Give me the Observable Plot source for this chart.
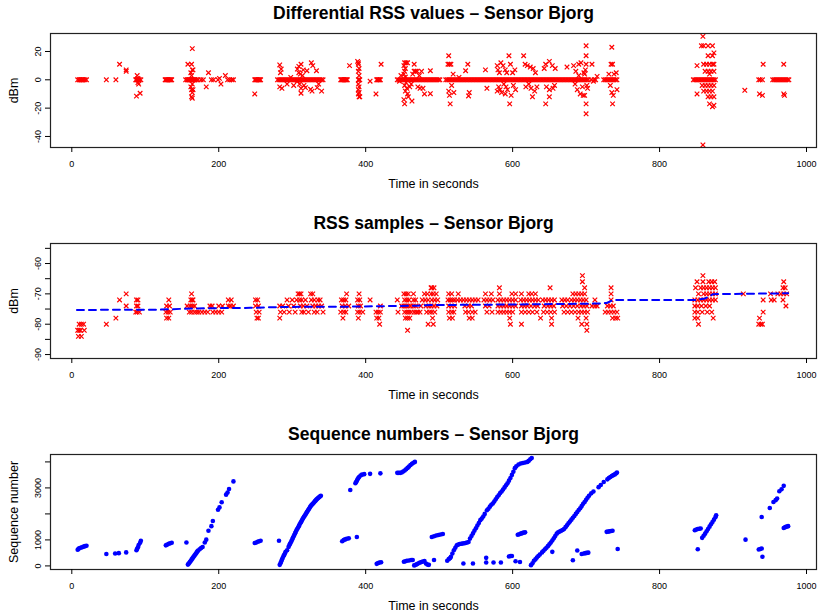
<!DOCTYPE html>
<html><head><meta charset="utf-8">
<script src="https://cdn.jsdelivr.net/npm/d3@7"></script>
<script src="https://cdn.jsdelivr.net/npm/@observablehq/plot@0.6"></script>
<style>body{margin:0;background:#fff;} #chart svg{display:block;}</style>
</head><body><div id="chart"></div>
<script>
const timeTicks = [0, 200, 400, 600, 800, 1000];
const diffTicks = [-40, -20, 0, 20];
const diffTickLabels = [-40, -20, 0, 20];
const rssTicks = [-90, -85, -80, -75, -70, -65, -60, -55];
const rssTickLabels = [-90, -80, -70, -60];
const seqTicks = [0, 1000, 2000, 3000, 4000];
const seqTickLabels = [0, 1000, 3000];

const titles = ["Differential RSS values \u2013 Sensor Bjorg", "RSS samples \u2013 Sensor Bjorg", "Sequence numbers \u2013 Sensor Bjorg"];
const xLabel = "Time in seconds";
const yLabels = ["dBm", "dBm", "Sequence number"];

// [time (s), differential RSS (dBm)]
const diffRss = [
[8,0],[10,0],[11,0],[12,0],[13,0],[14,0],[15,0],[16,0],[18,0],[20,0],
[47,0],[60,0],[65,11],[74,6],[74,7],
[87,0],[88,0],[89,0],[90,0],[91,0],[92,0],[94,0],[89,3],[90,-2],[91,-3],[88,-11.5],[93,-9.5],[90,1],
[127,0],[128,0],[129,0],[130,0],[131,0],[132,0],[133,0],[134,0],[135,0],[136,0],
[155,0],[157,0],[158,0],[159,0],[160,0],[161,0],[162,0],[163,0],[164,0],[165,0],[166,0],[167,0],[168,0],[170,0],[172,0],
[158,11],[164,22],[163,11],[164,7],[165,7],[162,5],[163,3],[164,-3],[163,-7],[165,-7],[164,-9],[163,-12],[164,-13],[162,-5],
[176,0],[179,0],[183,-5],[186,5],[190,0],[193,0],[199,0],[201,1],[203,-3],[209,3],[212,0],[215,0],[218,0],[220,0],
[249,0],[250,0],[251,0],[252,0],[253,0],[254,0],[255,0],[256,0],[257,0],[249,-10],
[280,0],[282,0],[284,0],[286,0],[288,0],[290,0],[292,0],[294,0],[296,0],[298,0],[300,0],[302,0],[304,0],[306,0],[308,0],[310,0],[312,0],[314,0],[316,0],[318,0],[320,0],[322,0],[324,0],[326,0],[328,0],[330,0],[332,0],[334,0],[336,0],[338,0],[340,0],[342,0],
[283,10.5],[284,5],[285,7.6],[283,-5],[286,-6],[298,1.7],[307,7.6],[309,9.5],[311,4],[312,11],[315,7],[310,-3],[312,-6],[312,-9.5],[320,6.4],[326,12],[328,10],[333,6.4],[325,-6.7],[327,-8],[334,-5.5],[340,-8],[336,-3],[316,-4],[318,-5.5],[302,-4],[293,-3],[307,-1],[309,5],[314,3],
[366,0],[367,0],[368,0],[369,0],[370,0],[371,0],[372,0],[373,0],[374,0],[375,0],
[378,10],[389,13],[390,12],[390,11],[391,8],[390,6],[391,3],[390,0],[391,0],[392,0],[390,-3],[391,-5],[390,-7],[391,-9],[390,-10],[391,-12],[392,-12],[406,-1],[414,-10],[415,0],[416,0],[417,0],[418,0],[419,0],[420,0],[421,11],
[443,0],[445,0],[447,0],[449,0],[451,0],[453,0],[455,0],[457,0],[459,0],[461,0],[463,0],[465,0],[467,0],[469,0],[471,0],[473,0],[475,0],[477,0],[479,0],[481,0],[483,0],[485,0],[487,0],[489,0],[491,0],[493,0],[495,0],[497,0],[499,0],[501,0],
[453,12],[455,12],[457,12],[452,10],[454,8],[453,6],[452,4],[454,2],[455,-2],[453,-4],[456,-6],[454,-8],[457,-10],[458,-12],[452,-14],[453,-17],[463,-15],[466,11],[466,6],[468,6],[470,6],[448,3],[446,-1],[476,6],[478,-6],[480,-10],[460,-5],[462,-3],[464,4],[471,-5],[474,-6],[473,3],[488,6.4],[488,-9.8],
[513,17],[512,11],[514,11],[516,11],[513,-8],[514,-11],[515,-17],[520,-9],[517,-4],[519,4],
[509,0],[511,0],[513,0],[515,0],[517,0],[519,0],[521,0],[523,0],[525,0],[527,0],[529,0],[531,0],[533,0],[535,0],[537,0],[539,0],[541,0],[543,0],[545,0],[547,0],[549,0],[551,0],[553,0],[555,0],[557,0],[559,0],[561,0],[563,0],[565,0],[567,0],[569,0],[571,0],[573,0],[575,0],[577,0],[579,0],[581,0],[583,0],[585,0],[587,0],[589,0],[591,0],[593,0],[595,0],[597,0],[599,0],
[527,1.7],[536,6.4],[539,11],[540,-11.4],[541,-9],[563,7],[565,-6],
[579,10],[580,7],[582,5],[581,-5],[583,-7],[579,-8],[584,12],[587,10],[590,7],[592,5],[591,-5],[593,-7],[590,-10],[595,17],[597,11],[598,-11],[596,-17],[600,5],[601,-4],[603,7],[604,-7],[585,-9],[588,-3],
[615,17],[617,11],[620,10],[624,9],[628,8],[622,-3],[625,-6],[630,-8],[633,-5],[627,-12],[631,5],[618,-5],
[601,0],[603,0],[605,0],[607,0],[609,0],[611,0],[613,0],[615,0],[617,0],[619,0],[621,0],[623,0],[625,0],[627,0],[629,0],[631,0],[633,0],[635,0],[637,0],[639,0],[641,0],[643,0],[645,0],[647,0],[649,0],[651,0],[653,0],[655,0],[657,0],[659,0],[661,0],[663,0],[665,0],[667,0],[669,0],[671,0],[673,0],[675,0],[677,0],[679,0],[681,0],[683,0],[685,0],[687,0],[689,0],[691,0],[693,0],[695,0],[697,0],[699,0],[701,0],[703,0],
[643,8],[645,11],[650,13],[654,10],[658,8],[646,-5],[650,-7],[655,-6],[645,-17],[650,-12],[657,-4],[674,9],
[683,10],[686,6],[690,11],[693,12],[695,-5],[688,-7],[692,-10],[696,-11],[698,-11],[700,24],[700,17],[700,11],[699,7],[698,4],[701,-4],[700,-17],[700,-24],[685,-3],[690,3],[697,5],[702,-6],
[708,11],[710,-1],[715,2.4],[707,0],[711,0],[713,0],
[724,0],[726,0],[728,0],[730,0],[732,0],[734,0],[736,0],[738,0],[740,0],[742,0],[735,23],[734,11],[736,11],[731,4],[738,4],[733,-4],[735,-9],[737,-11],[736,-17],[742,-7],[741,5],
[846,0],[848,0],[850,0],[852,0],[854,0],[856,0],[858,0],[860,0],[862,0],[864,0],[866,0],[868,0],[870,0],[872,0],[874,0],[876,0],
[859,30.7],[857,24],[860,24],[866,24],[872,24],[866,17],[860,11],[864,11],[868,11],[872,11],[874,11],[862,6],[866,6],[870,6],[874,6],[868,4],[872,17],[874,19],
[858,-4],[862,-4],[866,-4],[870,-4],[874,-4],[860,-8],[864,-8],[868,-8],[872,-8],[874,-12],[866,-12],[870,-12],[868,-17],[872,-19],[874,-18],[851,-10],[851,10],[859,-46],
[916,-7.4],[935,0],[937,0],[940,0],[941,11],[936,-10],[940,-11],
[954,0],[956,0],[958,0],[960,0],[962,0],[964,0],[966,0],[968,0],[970,0],[972,0],[974,0],[976,0],[969,11],[969,-10],[970,-11]
];

// [time (s), RSS (dBm)]
const rssSamples = [
[10,-80],[13,-80],[16,-80],[8,-82],[10,-82],[12,-82],[17,-82],[9,-84],[13,-84],
[47,-80],[60,-78],[65,-72],[74,-70],[74,-74],
[88,-72],[90,-72],[88,-74],[90,-74],[87,-76],[89,-76],[92,-76],
[132,-72],[129,-74],[133,-74],[128,-76],[131,-76],[134,-76],[129,-78],[132,-78],
[163,-70],[162,-72],[164,-72],[165,-72],[157,-74],[161,-74],[164,-74],[167,-74],[160,-76],[163,-76],[167,-76],[170,-76],[173,-76],[177,-76],[181,-76],[185,-76],
[188,-74],[191,-74],[192,-76],[196,-76],[200,-76],[204,-76],[200,-74],[205,-74],[213,-72],[217,-72],[213,-74],[216,-74],[220,-74],
[250,-72],[253,-72],[250,-74],[254,-74],[251,-76],[255,-76],[252,-78],[254,-78],
[283,-74],[284,-76],[283,-78],[287,-74],[289,-76],[293,-72],[295,-74],[296,-76],[300,-72],[302,-74],[304,-76],[306,-72],[308,-70],[310,-70],[312,-70],[310,-72],[313,-72],[315,-74],[311,-74],[316,-76],[313,-76],[318,-72],[320,-74],[322,-76],[325,-70],[328,-70],[326,-72],[330,-72],[328,-74],[332,-74],[330,-76],[334,-76],[336,-74],[338,-72],[340,-74],[342,-76],[335,-72],
[367,-72],[370,-72],[373,-72],[374,-70],[368,-74],[372,-74],[366,-76],[370,-76],[373,-76],[369,-78],[377,-74],
[391,-70],[389,-72],[392,-72],[390,-74],[393,-74],[389,-76],[392,-76],[390,-78],[396,-76],
[406,-72],[420,-74],
[414,-76],[417,-76],[420,-76],[415,-78],[418,-78],[419,-80],
[443,-72],[444,-76],[449,-74],[452,-70],[455,-70],[458,-70],[453,-72],[456,-72],[459,-72],[452,-74],[455,-74],[458,-74],[461,-74],[453,-76],[456,-76],[459,-76],[462,-76],[454,-78],[457,-78],[460,-78],[457,-82],[465,-72],[468,-72],[465,-74],[468,-74],[466,-76],[469,-76],[465,-70],[471,-76],[474,-76],[475,-74],
[480,-70],[484,-70],[481,-72],[485,-72],[482,-74],[486,-74],[483,-76],[487,-76],[485,-80],[477,-72],[489,-68],
[490,-68],[493,-68],[489,-70],[492,-70],[496,-70],[490,-72],[494,-72],[498,-72],[489,-74],[493,-74],[497,-74],[490,-76],[494,-76],[491,-78],[492,-80],
[513,-70],[517,-70],[526,-70],[512,-72],[515,-72],[518,-72],[521,-72],[513,-74],[517,-74],[521,-74],[513,-76],[517,-76],[520,-76],[514,-78],[518,-78],
[525,-72],[529,-72],[533,-72],[537,-72],[541,-72],[545,-72],[549,-72],[553,-72],[535,-74],[540,-74],[544,-74],[536,-76],[540,-76],[545,-76],[549,-76],[541,-78],[545,-78],
[563,-70],[571,-70],[561,-72],[565,-72],[569,-72],[573,-72],[563,-74],[568,-74],[565,-76],[572,-76],
[582,-68],[582,-70],[599,-70],[604,-70],[580,-72],[584,-72],[588,-72],[592,-72],[596,-72],[600,-72],[604,-72],[580,-74],[584,-74],[588,-74],[592,-74],[596,-74],[600,-74],[604,-74],[580,-76],[584,-76],[588,-76],[592,-76],[596,-76],[600,-76],[596,-78],[597,-80],
[612,-70],[622,-70],[626,-70],[631,-70],[611,-72],[615,-72],[619,-72],[623,-72],[627,-72],[631,-72],[635,-72],[612,-74],[616,-74],[620,-74],[625,-74],[630,-74],[634,-74],[612,-76],[617,-76],[622,-76],[627,-76],[633,-76],[638,-78],[612,-80],
[651,-68],[641,-72],[645,-72],[649,-72],[653,-72],[657,-72],[643,-74],[648,-74],[652,-74],[656,-74],[642,-76],[647,-76],[652,-76],[657,-76],[653,-78],[653,-80],
[695,-64],[695,-66],[698,-68],[682,-70],[686,-70],[690,-70],[694,-70],[698,-70],[667,-72],[671,-72],[675,-72],[680,-72],[684,-72],[688,-72],[692,-72],[696,-72],[700,-72],[668,-74],[673,-74],[678,-74],[683,-74],[688,-74],[693,-74],[697,-74],[701,-74],[670,-76],[675,-76],[680,-76],[685,-76],[690,-76],[694,-76],[698,-76],[702,-76],[689,-78],[700,-78],[694,-80],[701,-80],[701,-82],
[712,-72],[708,-74],[712,-74],[715,-74],
[734,-68],[734,-70],[734,-72],[729,-74],[733,-74],[737,-74],[726,-76],[730,-76],[734,-76],[738,-76],[742,-76],[736,-78],[740,-78],[743,-78],
[859,-64],[851,-66],[859,-66],[867,-66],[871,-66],[875,-66],[849,-68],[856,-68],[860,-68],[864,-68],[868,-68],[872,-68],[876,-68],[853,-70],[860,-70],[864,-70],[868,-70],[872,-70],[876,-70],[848,-72],[852,-72],[856,-72],[860,-72],[864,-72],[868,-72],[872,-72],[876,-72],[848,-74],[852,-74],[857,-74],[863,-74],[868,-74],[848,-76],[852,-76],[858,-76],[865,-76],[871,-76],[848,-78],[852,-78],[873,-78],[853,-80],
[914,-70],
[941,-72],[941,-76],[936,-78],[935,-80],[938,-80],[940,-80],
[951,-70],[952,-72],[956,-72],
[969,-66],[968,-68],[971,-68],[961,-70],[965,-70],[969,-70],[973,-70],[968,-72],[972,-74]
];

// smoothed RSS trend [time, dBm]
const rssTrend = [[7,-75.3],[120,-75.2],[152,-74.9],[198,-74.7],[243,-74.6],[289,-74.3],[380,-74.2],[470,-73.9],[488,-73.7],[600,-73.5],[715,-73.2],[728,-73.0],[737,-72.0],[851,-72.0],[862,-71.5],[873,-70.1],[975,-69.8]];

// [time (s), sequence number]
const seqNumbers = [
[8,620],[9,650],[10,680],[12,700],[14,720],[16,740],[18,760],[20,775],
[47,460],[59,475],[64,490],[74,520],
[88,600],[89,660],[90,720],[91,800],[93,890],[94,970],
[128,790],[130,820],[132,850],[134,870],[136,890],
[156,900],
[158,50],[159,80],[160,120],[161,160],[162,200],[163,240],[164,280],[165,320],[166,360],[167,400],[168,440],[169,480],[170,520],[171,560],[172,590],[174,640],[176,690],[178,730],
[181,900],[183,1010],[186,1350],[190,1530],[192,1730],[199,2160],[201,2250],[204,2450],[210,2740],[212,2820],[214,2960],[220,3250],
[249,880],[251,900],[253,930],[255,950],[257,970],
[282,970],
[283,40],[284,100],[285,170],[286,240],[287,300],[288,370],[289,420],[290,480],[291,540],[293,600],
[295,730],[296,790],[297,850],[298,900],[299,960],[300,1020],[301,1080],[302,1140],[303,1200],[304,1260],[305,1320],[306,1380],[307,1430],[308,1480],[309,1530],[310,1590],[311,1640],[312,1690],[313,1740],[314,1790],[315,1840],[316,1890],[317,1930],[318,1980],[319,2020],[320,2070],[321,2110],[322,2160],[323,2200],[324,2250],[325,2290],[326,2330],[327,2360],[328,2390],[329,2420],[330,2460],[331,2490],[332,2520],[333,2550],[334,2580],[335,2600],[336,2630],[337,2650],[338,2680],[339,2700],
[368,950],[370,990],[372,1020],[374,1040],[377,1060],[388,1110],
[379,2920],[386,3180],[387,3230],[388,3280],[389,3330],[390,3380],[391,3420],[393,3480],[395,3510],[398,3530],[406,3540],[420,3560],
[443,3580],[445,3580],[447,3580],[449,3590],[451,3630],[453,3670],[455,3720],[457,3770],[459,3820],[461,3880],[463,3930],[465,3970],[467,4000],
[415,80],[417,110],[419,130],[421,140],
[452,160],[454,180],[456,200],[459,210],[462,230],[464,230],
[466,20],[468,40],[470,70],[472,100],[474,130],[476,150],[478,170],[480,190],[482,90],[484,50],[486,40],[493,230],
[490,1110],[493,1140],[496,1170],[499,1190],[502,1210],[505,1225],
[511,200],[513,260],[515,300],[516,350],[518,480],[520,600],[522,700],[524,790],[526,820],[528,840],[530,850],[532,860],[534,870],[536,880],[538,900],[540,920],
[542,1050],[544,1150],[546,1250],[548,1350],[550,1450],[552,1550],[554,1650],[556,1760],[558,1820],[560,1900],[562,2000],[565,2140],[567,2200],[569,2280],[571,2350],[573,2400],[575,2480],[577,2560],[579,2650],[581,2720],[583,2800],[585,2860],[587,2940],[589,3020],[591,3100],[593,3180],[595,3280],[597,3380],[599,3500],[601,3620],[603,3760],[605,3830],[608,3900],[611,3940],[614,3960],[617,3980],[620,4000],[622,4040],[624,4100],[626,4150],
[533,90],[546,90],[564,310],[564,130],[574,130],[584,130],[595,360],[597,380],[599,380],[604,180],[610,150],
[607,1200],[609,1220],[611,1240],[613,1260],[615,1280],[617,1290],
[625,30],[627,100],[629,200],[631,250],[633,320],[635,380],[637,440],[640,520],[642,580],[644,640],[646,700],[648,760],[650,830],[652,900],[654,980],[656,1060],[658,1150],[660,1240],[662,1290],[664,1320],[666,1350],[668,1380],[670,1420],[672,1490],[674,1560],[676,1640],[678,1710],[680,1780],[682,1850],[684,1920],[686,2000],[688,2070],[690,2150],[692,2220],[694,2300],[696,2390],[698,2460],[700,2540],[702,2620],[704,2700],[707,2790],[710,2860],[717,3030],[720,3110],[724,3230],[729,3330],[731,3380],[733,3420],[735,3460],[737,3490],[739,3520],[741,3560],[742,3590],
[654,540],[682,220],[688,590],[694,460],[697,480],[699,490],[701,500],[703,510],
[728,1310],[730,1320],[732,1330],[734,1340],[736,1350],[743,650],
[848,1370],[850,1400],[852,1420],[854,1430],[856,1440],[852,640],
[858,1080],[860,1160],[862,1240],[864,1330],[866,1420],[868,1510],[870,1600],[872,1690],[874,1780],[876,1870],[877,1950],
[917,1010],[935,630],[937,650],[939,670],[940,350],
[939,1880],[950,2230],[955,2460],[958,2530],[960,2590],[963,2870],[966,2950],[969,3080],
[969,1460],[971,1490],[973,1510],[975,1530]
];

const font = "'Liberation Sans', Arial, Helvetica, sans-serif";

function panel({height, marginTop, marginBottom, yDomain, yTicks, yTickLabels, title, yLabel, marks}) {
  return Plot.plot({
    width: 820, height, marginLeft: 50, marginRight: 4, marginTop, marginBottom,
    style: {fontFamily: font, background: "white", overflow: "visible", color: "black"},
    x: {domain: [-29, 1013.6]},
    y: {domain: yDomain},
    marks: [
      ...marks,
      Plot.frame({stroke: "#222", strokeWidth: 1.2}),
      Plot.axisX({ticks: timeTicks, tickSize: 5, tickPadding: 8, fontSize: 9, label: null, tickFormat: d => String(d)}),
      Plot.axisY({ticks: yTicks, tickFormat: d => yTickLabels.includes(d) ? String(d) : "", tickSize: 5, tickPadding: 5, tickRotate: -90, textAnchor: "middle", lineAnchor: "bottom", fontSize: 9, label: null}),
      Plot.text([title], {text: d => d, frameAnchor: "top", dy: -15, lineAnchor: "bottom", fontSize: 17.5, fontWeight: "bold"}),
      Plot.text([xLabel], {text: d => d, frameAnchor: "bottom", dy: 40, lineAnchor: "bottom", fontSize: 12.5}),
      Plot.text([yLabel], {text: d => d, frameAnchor: "left", dx: -33, rotate: -90, textAnchor: "middle", lineAnchor: "bottom", fontSize: 12.5})
    ]
  });
}

const crossStyle = {symbol: "times", r: 2.2, stroke: "#ff0000", strokeWidth: 1.2, fill: "none"};

const p1 = panel({
  height: 200, marginTop: 33, marginBottom: 53,
  yDomain: [-47.8, 32.7], yTicks: diffTicks, yTickLabels: diffTickLabels,
  title: titles[0], yLabel: yLabels[0],
  marks: [Plot.dot(diffRss, {x: d => d[0], y: d => d[1], ...crossStyle})]
});
const p2 = panel({
  height: 210, marginTop: 43, marginBottom: 52,
  yDomain: [-91.3, -53.4], yTicks: rssTicks, yTickLabels: rssTickLabels,
  title: titles[1], yLabel: yLabels[1],
  marks: [
    Plot.dot(rssSamples, {x: d => d[0], y: d => d[1], ...crossStyle}),
    Plot.line(rssTrend, {x: d => d[0], y: d => d[1], stroke: "#0000ff", strokeWidth: 2, strokeDasharray: "7,5"})
  ]
});
const p3 = panel({
  height: 206, marginTop: 44, marginBottom: 47,
  yDomain: [-138, 4285], yTicks: seqTicks, yTickLabels: seqTickLabels,
  title: titles[2], yLabel: yLabels[2],
  marks: [Plot.dot(seqNumbers, {x: d => d[0], y: d => d[1], r: 2.3, fill: "#0000ff", stroke: "none"})]
});
const c = document.getElementById("chart");
c.append(p1, p2, p3);
</script>
</body></html>
